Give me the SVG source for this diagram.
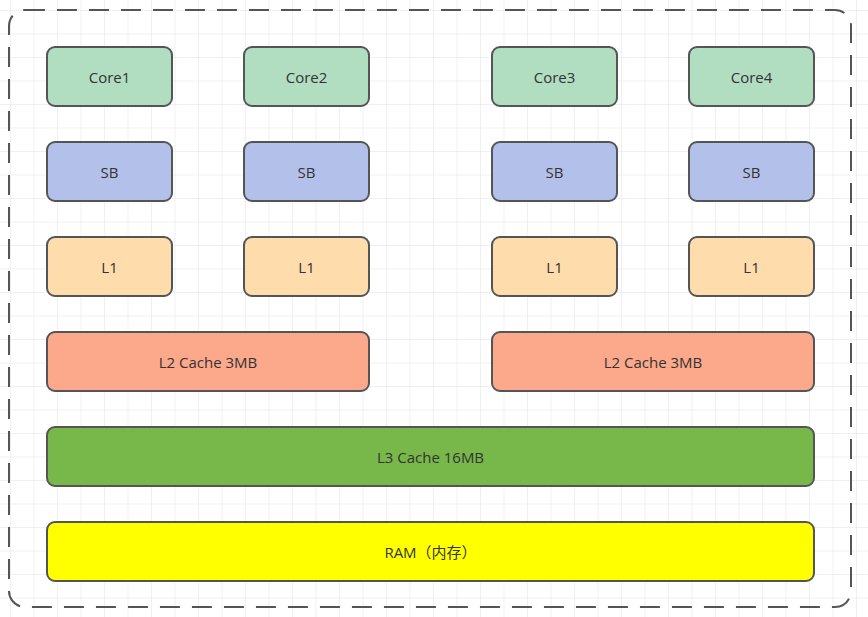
<svg xmlns="http://www.w3.org/2000/svg" width="868" height="617" viewBox="0 0 868 617">
<style>
.b{stroke:#555;stroke-width:2}
text{font-family:"Open Sans","Noto Sans CJK SC",sans-serif;font-size:15px;fill:#333;text-anchor:middle;dominant-baseline:central}
.c{fill:#b1ddc1}.s{fill:#b3c1ea}.l1{fill:#fedcab}.l2{fill:#fca98b}.l3{fill:#78b84a}.r{fill:#ffff00}
</style>
<defs>
<pattern id="g" width="23.5" height="23.5" patternUnits="userSpaceOnUse" x="10" y="10">
<path d="M0 0H23.5M0 0V23.5" fill="none" stroke="#e2e2e2" stroke-width="1"/>
</pattern>
</defs>
<rect width="868" height="617" fill="#fff"/>
<rect width="868" height="617" fill="url(#g)"/>
<rect x="9" y="10" width="842" height="597" rx="16" fill="none" stroke="#555" stroke-width="2" stroke-dasharray="20 12"/>
<g id="core1"><rect class="b c" x="47" y="47" width="125" height="59" rx="8"/><text x="109.5" y="77">Core1</text></g>
<g id="core2"><rect class="b c" x="244" y="47" width="125" height="59" rx="8"/><text x="306.5" y="77">Core2</text></g>
<g id="core3"><rect class="b c" x="492" y="47" width="125" height="59" rx="8"/><text x="554.5" y="77">Core3</text></g>
<g id="core4"><rect class="b c" x="689" y="47" width="125" height="59" rx="8"/><text x="751.5" y="77">Core4</text></g>
<g id="sb1"><rect class="b s" x="47" y="142" width="125" height="59" rx="8"/><text x="109.5" y="172">SB</text></g>
<g id="sb2"><rect class="b s" x="244" y="142" width="125" height="59" rx="8"/><text x="306.5" y="172">SB</text></g>
<g id="sb3"><rect class="b s" x="492" y="142" width="125" height="59" rx="8"/><text x="554.5" y="172">SB</text></g>
<g id="sb4"><rect class="b s" x="689" y="142" width="125" height="59" rx="8"/><text x="751.5" y="172">SB</text></g>
<g id="l1a"><rect class="b l1" x="47" y="237" width="125" height="59" rx="8"/><text x="109.5" y="267">L1</text></g>
<g id="l1b"><rect class="b l1" x="244" y="237" width="125" height="59" rx="8"/><text x="306.5" y="267">L1</text></g>
<g id="l1c"><rect class="b l1" x="492" y="237" width="125" height="59" rx="8"/><text x="554.5" y="267">L1</text></g>
<g id="l1d"><rect class="b l1" x="689" y="237" width="125" height="59" rx="8"/><text x="751.5" y="267">L1</text></g>
<g id="l2a"><rect class="b l2" x="47" y="332" width="322" height="59" rx="8"/><text x="208" y="362">L2 Cache 3MB</text></g>
<g id="l2b"><rect class="b l2" x="492" y="332" width="322" height="59" rx="8"/><text x="653" y="362">L2 Cache 3MB</text></g>
<g id="l3"><rect class="b l3" x="47" y="427" width="767" height="59" rx="8"/><text x="430.5" y="457">L3 Cache 16MB</text></g>
<g id="ram"><rect class="b r" x="47" y="522" width="767" height="59" rx="8"/><text x="430.5" y="552">RAM（内存）</text></g>
<g id="connectors"></g>
</svg>
